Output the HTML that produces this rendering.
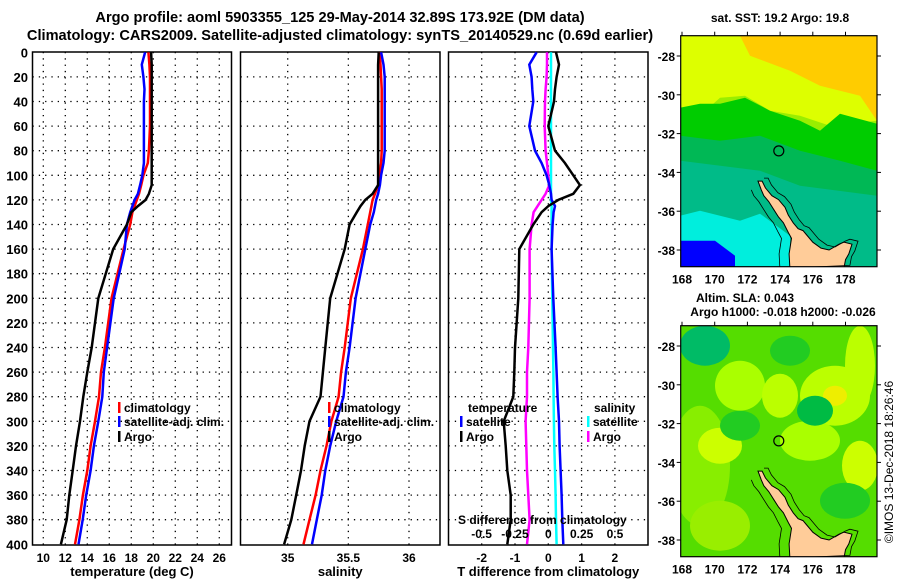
<!DOCTYPE html>
<html><head><meta charset="utf-8"><style>
html,body{margin:0;padding:0;background:#fff;}
svg{display:block;font-family:"Liberation Sans",sans-serif;font-weight:bold;}
</style></head><body>
<svg id="fig" width="900" height="580" viewBox="0 0 900 580" xmlns="http://www.w3.org/2000/svg">
<text x="340" y="22" font-size="14.6" text-anchor="middle">Argo profile: aoml 5903355_125 29-May-2014 32.89S 173.92E (DM data)</text>
<text x="340" y="40" font-size="14.6" text-anchor="middle">Climatology: CARS2009. Satellite-adjusted climatology: synTS_20140529.nc (0.69d earlier)</text>
<g id="p1"></g>
<g id="p2"></g>
<g id="p3"></g>
<g id="m1"></g>
<g id="m2"></g>
<text transform="translate(893,462) rotate(-90)" font-size="12" font-weight="normal" text-anchor="middle">©IMOS 13-Dec-2018 18:26:46</text>
</svg>
<script>
// depths (m)
const depthsT = [0,10,20,30,40,60,80,90,100,108,115,120,125,130,140,160,200,240,260,280,300,320,340,360,380,400];
// temperature profiles (deg C)
const tempArgo = [19.8,19.85,19.85,19.85,19.85,19.85,19.85,19.85,19.85,19.85,19.6,19.3,18.6,18.0,17.6,16.35,15.0,14.4,14.0,13.64,13.34,12.97,12.67,12.36,12.13,11.6];
const tempClim = [19.55,19.65,19.7,19.7,19.7,19.7,19.6,19.5,19.1,18.9,18.7,18.5,18.3,18.1,17.9,17.3,16.2,15.6,15.25,15.06,14.7,14.3,14.0,13.6,13.28,12.88];
const tempSat = [19.25,18.95,19.1,19.2,19.15,19.15,19.15,19.15,19.0,18.8,18.6,18.3,18.1,17.9,17.6,17.4,16.4,15.8,15.5,15.36,15.0,14.6,14.3,13.9,13.58,13.2];
// salinity profiles (PSU)
const salArgo = [35.75,35.745,35.745,35.745,35.745,35.745,35.745,35.745,35.745,35.745,35.70,35.64,35.60,35.57,35.51,35.47,35.35,35.31,35.29,35.27,35.18,35.14,35.11,35.07,35.03,34.97];
const salClim = [35.755,35.765,35.77,35.775,35.775,35.775,35.775,35.77,35.755,35.745,35.72,35.70,35.69,35.68,35.66,35.62,35.52,35.47,35.44,35.42,35.36,35.32,35.27,35.23,35.18,35.13];
const salSat = [35.77,35.79,35.80,35.80,35.80,35.80,35.80,35.79,35.77,35.76,35.745,35.73,35.72,35.71,35.68,35.64,35.56,35.51,35.48,35.46,35.40,35.35,35.31,35.28,35.24,35.2];
// differences from climatology
const dTArgo = [0.23,0.32,0.25,0.2,0.17,0.0,0.2,0.5,0.75,0.95,0.75,0.3,0.0,-0.2,-0.45,-0.87,-0.9,-1.0,-1.02,-1.05,-1.34,-1.28,-1.23,-1.13,-1.13,-1.23];
const dTSat = [-0.35,-0.57,-0.5,-0.48,-0.45,-0.57,-0.4,-0.2,-0.05,0.03,0.08,0.1,0.2,0.16,0.13,0.1,0.15,0.22,0.25,0.28,0.32,0.34,0.37,0.40,0.42,0.45];
const dSArgo = [-0.01,-0.01,-0.0125,-0.02,-0.025,-0.027,-0.02,-0.01,0.0,0.0075,-0.02,-0.05,-0.08,-0.11,-0.125,-0.14,-0.14,-0.15,-0.16,-0.16,-0.17,-0.165,-0.16,-0.15,-0.14,-0.16];
const dSSat = [0.02,0.02,0.02,0.02,0.02,0.02,0.02,0.02,0.02,0.02,0.02,0.02,0.025,0.025,0.025,0.025,0.03,0.035,0.038,0.04,0.042,0.045,0.05,0.055,0.058,0.062];
// ticks
const depthTicks = [0,20,40,60,80,100,120,140,160,180,200,220,240,260,280,300,320,340,360,380,400];
const tTicks = [10,12,14,16,18,20,22,24,26];
const sTicks = [35,35.5,36];
const dTTicks = [-2,-1,0,1,2];
const dSTicks = [-0.5,-0.25,0,0.25,0.5];
const lonTicks = [168,170,172,174,176,178];
const latTicks = [-28,-30,-32,-34,-36,-38];
// NZ land outline (lon, lat)
const landLon = [172.65,172.9,173.1,173.5,173.9,174.3,174.5,174.8,175.1,175.4,175.6,176.0,176.5,177.0,177.6,177.9,178.4,178.2,178.0,177.9,174.6,174.55,174.7,174.5,174.2,173.9,173.6,173.3,173.0,172.85];
const landLat = [-34.45,-34.45,-34.8,-35.2,-35.4,-35.8,-36.2,-36.6,-36.9,-37.0,-37.2,-37.6,-37.9,-38.0,-37.7,-37.6,-37.7,-38.2,-38.5,-38.95,-38.95,-38.2,-37.4,-37.1,-36.6,-36.3,-35.9,-35.5,-35.2,-34.9];
const argoLon = 173.92, argoLat = -32.89;

const NS='http://www.w3.org/2000/svg';
function mk(parent,tag,attrs){const e=document.createElementNS(NS,tag);for(const k in attrs)e.setAttribute(k,attrs[k]);parent.appendChild(e);return e;}
const yD = d => 52.3 + d*1.23;
const pTop=52, pBot=545;

function panel(g,x0,x1,sx,xt,xtLabels,xtitle,ylabels){
  for(const t of xt){const x=sx(t);
    const l=mk(g,'line',{x1:x,x2:x,y1:pTop,y2:pBot,stroke:'#000','stroke-width':1.3,'stroke-dasharray':'1.3,5'});
    
    
    const tx=mk(g,'text',{x:x,y:562,'font-size':12,'text-anchor':'middle'});tx.textContent=xtLabels(t);
    
    
  }
  for(const d of depthTicks){if(d===0||d===400)continue;const y=yD(d);
    const l=mk(g,'line',{x1:x0,x2:x1,y1:y,y2:y,stroke:'#000','stroke-width':1.3,'stroke-dasharray':'1.3,5'});
    
    
  }
  if(ylabels){for(const d of depthTicks){const tx=mk(g,'text',{x:28,y:yD(d)+5,'font-size':13,'text-anchor':'end'});tx.textContent=d;
    
    }}
  const r=mk(g,'rect',{x:x0,y:pTop,width:x1-x0,height:pBot-pTop,fill:'none',stroke:'#000','stroke-width':1.5});
  
  
  const tt=mk(g,'text',{x:(x0+x1)/2,y:576,'font-size':13,'text-anchor':'middle'});tt.textContent=xtitle;
  
  
}
function drawLine(g,vals,sx,color,name){
  const pts=vals.map((v,i)=>sx(v).toFixed(1)+','+yD(depthsT[i]).toFixed(1)).join(' ');
  const p=mk(g,'polyline',{points:pts,fill:'none',stroke:color,'stroke-width':2.5});
  
  
}
function legend(g,x,y,color,label,name){
  const r=mk(g,'rect',{x:x,y:y-10,width:2.5,height:11,fill:color});
  
  
  const t=mk(g,'text',{x:x+6,y:y,'font-size':12});t.textContent=label;
  
  
}

// Panel 1
const g1=document.getElementById('p1');
const sxT=t=>43.3+(t-10)*11;
panel(g1,32.5,231.5,sxT,tTicks,t=>t,'temperature (deg C)',true);
drawLine(g1,tempClim,sxT,'#f00','temp-climatology-line');
drawLine(g1,tempSat,sxT,'#00f','temp-satellite-line');
drawLine(g1,tempArgo,sxT,'#000','temp-argo-line');
legend(g1,118,412,'#f00','climatology','legend-climatology');
legend(g1,118,426,'#00f','satellite-adj. clim.','legend-satellite-adj');
legend(g1,118,441,'#000','Argo','legend-argo');

// Panel 2
const g2=document.getElementById('p2');
const sxS=s=>287.7+(s-35)*121.3;
panel(g2,240.5,440,sxS,sTicks,t=>t,'salinity',false);
drawLine(g2,salClim,sxS,'#f00','sal-climatology-line');
drawLine(g2,salSat,sxS,'#00f','sal-satellite-line');
drawLine(g2,salArgo,sxS,'#000','sal-argo-line');
legend(g2,328,412,'#f00','climatology','legend-climatology');
legend(g2,328,426,'#00f','satellite-adj. clim.','legend-satellite-adj');
legend(g2,328,441,'#000','Argo','legend-argo');

// Panel 3
const g3=document.getElementById('p3');
const sxDT=v=>548.3+v*33.3;
const sxDS=v=>548.3+v*133.3;
panel(g3,448.5,648,sxDT,dTTicks,t=>t,'T difference from climatology',false);
drawLine(g3,dSSat,sxDS,'#0ff','sdiff-satellite-line');
drawLine(g3,dSArgo,sxDS,'#f0f','sdiff-argo-line');
drawLine(g3,dTSat,sxDT,'#00f','tdiff-satellite-line');
drawLine(g3,dTArgo,sxDT,'#000','tdiff-argo-line');
{const t=mk(g3,'text',{x:468,y:412,'font-size':12});t.textContent='temperature';
 
 
 const s=mk(g3,'text',{x:594,y:412,'font-size':12});s.textContent='salinity';
 
 }
legend(g3,460,426,'#00f','satellite','legend-t-satellite');
legend(g3,460,441,'#000','Argo','legend-t-argo');
legend(g3,587,426,'#0ff','satellite','legend-s-satellite');
legend(g3,587,441,'#f0f','Argo','legend-s-argo');
{const t=mk(g3,'text',{x:458,y:524,'font-size':12});t.textContent='S difference from climatology';
 
 
 for(const v of dSTicks){const tx=mk(g3,'text',{x:sxDS(v),y:538,'font-size':12,'text-anchor':'middle'});tx.textContent=v;
  
  }}

// Maps
function drawMap(g,y0,kind){
  const x0=680.7,x1=877,y1=y0+231;
  const sx=lon=>682+(lon-168)*16.35;
  const sy=lat=>y0+20.3+(-28-lat)*19.4;
  const clip=mk(g,'clipPath',{id:'clip'+kind});mk(clip,'rect',{x:x0,y:y0,width:x1-x0,height:y1-y0});
  const c=mk(g,'g',{'clip-path':'url(#clip'+kind+')'});
  
  
  if(kind===1){
    mk(c,'rect',{x:x0,y:y0,width:x1-x0,height:y1-y0,fill:'#ddff00'});
    mk(c,'polygon',{points:`740,${y0} 877,${y0} 877,${y0+85} 860,${y0+60} 820,${y0+50} 790,${y0+35} 750,${y0+20}`,fill:'#ffcc00'});
    mk(c,'polygon',{points:`680,${y0+90} 700,${y0+80} 720,${y0+62} 745,${y0+60} 770,${y0+75} 800,${y0+80} 830,${y0+90} 877,${y0+85} 877,${y1} 680,${y1}`,fill:'#99ee00'});
    mk(c,'polygon',{points:`680,${y0+72} 700,${y0+68} 720,${y0+68} 745,${y0+62} 770,${y0+75} 800,${y0+85} 820,${y0+95} 840,${y0+78} 877,${y0+88} 877,${y1} 680,${y1}`,fill:'#00cc00'});
    mk(c,'polygon',{points:`680,${y0+100} 720,${y0+105} 760,${y0+100} 800,${y0+115} 840,${y0+125} 877,${y0+135} 877,${y1} 680,${y1}`,fill:'#00b855'});
    mk(c,'polygon',{points:`680,${y0+125} 760,${y0+135} 800,${y0+150} 877,${y0+160} 877,${y1} 680,${y1}`,fill:'#00bb88'});
    mk(c,'polygon',{points:`680,${y0+180} 700,${y0+175} 740,${y0+185} 760,${y0+178} 790,${y0+200} 790,${y1} 680,${y1}`,fill:'#00eedd'});
    mk(c,'polygon',{points:`680,${y0+205} 715,${y0+205} 735,${y0+220} 735,${y1} 680,${y1}`,fill:'#0000ff'});
  } else {
    mk(c,'rect',{x:x0,y:y0,width:x1-x0,height:y1-y0,fill:'#55dd00'});
    const blobs=[[705,y0+20,25,20,'#00bb66'],[700,y0+140,30,60,'#88ee00'],[740,y0+60,25,25,'#aaff00'],[720,y0+120,22,18,'#ccff00'],[780,y0+70,18,22,'#bbff00'],[835,y0+70,35,30,'#bbff00'],[835,y0+70,12,10,'#eeee00'],[810,y0+115,30,20,'#aaff00'],[790,y0+25,20,15,'#22cc22'],[815,y0+85,18,15,'#00bb44'],[860,y0+40,15,40,'#bbff00'],[860,y0+140,18,25,'#ccff00'],[740,y0+100,20,15,'#22cc22'],[845,y0+175,25,18,'#22cc22'],[720,y0+200,30,25,'#99ee00']];
    for(const b of blobs){mk(c,'ellipse',{cx:b[0],cy:b[1],rx:b[2],ry:b[3],fill:b[4]});}
  }
  const pts=landLon.map((l,i)=>sx(l).toFixed(1)+','+sy(landLat[i]).toFixed(1)).join(' ');
  const land=mk(c,'polygon',{points:pts,fill:'#ffcc99',stroke:'#000','stroke-width':1});
  
  
  const shelf=landLon.map((l,i)=>(sx(l)+(i<20?6:-10)).toFixed(1)+','+(sy(landLat[i])+(i<20?-3:0)).toFixed(1)).join(' ');
  mk(c,'polyline',{points:shelf,fill:'none',stroke:'#000','stroke-width':0.8});
  const circ=mk(g,'circle',{cx:sx(argoLon),cy:sy(argoLat),r:5,fill:'none',stroke:'#000','stroke-width':1.2});
  
  
  const fr=mk(g,'rect',{x:x0,y:y0,width:x1-x0,height:y1-y0,fill:'none',stroke:'#000','stroke-width':1.2});
  
  
  for(const lon of lonTicks){const x=sx(lon);
    mk(g,'line',{x1:x,x2:x,y1:y0-4,y2:y0,stroke:'#000'});
    const t=mk(g,'text',{x:x,y:y1+17,'font-size':12,'text-anchor':'middle'});t.textContent=lon;
    
    }
  for(const lat of latTicks){const y=sy(lat);
    mk(g,'line',{x1:x1,x2:x1+4,y1:y,y2:y,stroke:'#000'});
    mk(g,'line',{x1:x0-4,x2:x0,y1:y,y2:y,stroke:'#000'});
    const t=mk(g,'text',{x:675,y:y+5,'font-size':12,'text-anchor':'end'});t.textContent=lat;
    
    }
}
const m1=document.getElementById('m1');
drawMap(m1,35.7,1);
{const t=mk(m1,'text',{x:780,y:22,'font-size':12,'text-anchor':'middle'});t.textContent='sat. SST: 19.2 Argo: 19.8';
 
 }
const m2=document.getElementById('m2');
drawMap(m2,325.7,2);
{const t=mk(m2,'text',{x:745,y:302,'font-size':12,'text-anchor':'middle'});t.textContent='Altim. SLA: 0.043';
 
 
 const t2=mk(m2,'text',{x:783,y:316,'font-size':12,'text-anchor':'middle'});t2.textContent='Argo h1000: -0.018 h2000: -0.026';
 
 }
</script>
</body></html>
